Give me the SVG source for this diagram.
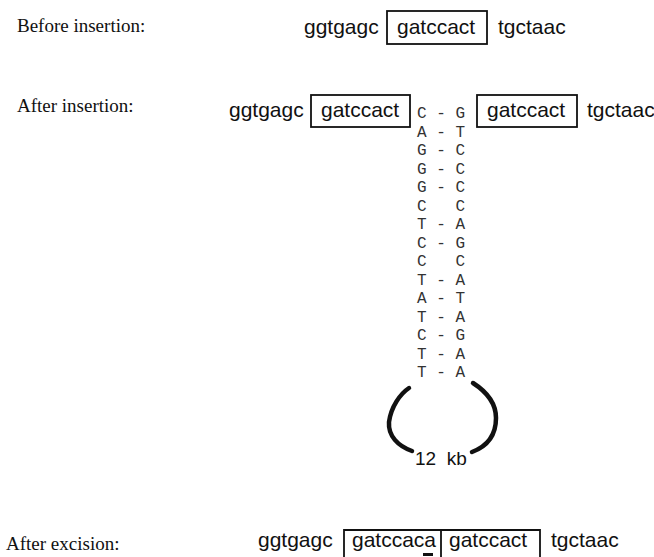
<svg xmlns="http://www.w3.org/2000/svg" width="654" height="557" viewBox="0 0 654 557">
<style>
.lbl{font-family:"Liberation Serif","Times New Roman",serif;font-size:19px;fill:#111}
.seq{font-family:"Liberation Sans",Arial,sans-serif;font-size:21px;fill:#111}
.box{fill:none;stroke:#111;stroke-width:1.8}
.bp{font-family:"Liberation Mono","Courier New",monospace;font-size:16px;fill:#333;white-space:pre}
.loop{fill:none;stroke:#111;stroke-width:4.5;stroke-linecap:round}
.kb{font-family:"Liberation Sans",Arial,sans-serif;font-size:19px;fill:#111;white-space:pre}
</style>
<rect width="654" height="557" fill="#fff"/>
<g id="before">
  <text class="lbl" x="17" y="32">Before insertion:</text>
  <text class="seq" x="304" y="34">ggtgagc</text>
  <rect class="box" x="387" y="11" width="100" height="33"/>
  <text class="seq" x="397" y="34">gatccact</text>
  <text class="seq" x="498" y="34">tgctaac</text>
</g>
<g id="after-insertion">
  <text class="lbl" x="17" y="112">After insertion:</text>
  <text class="seq" x="229" y="117">ggtgagc</text>
  <rect class="box" x="311" y="95" width="99" height="32"/>
  <text class="seq" x="321" y="117">gatccact</text>
  <rect class="box" x="477" y="95" width="100" height="32"/>
  <text class="seq" x="487" y="117">gatccact</text>
  <text class="seq" x="587" y="117">tgctaac</text>
</g>
<g id="stem">
  <text class="bp" x="417" y="118" xml:space="preserve">C - G</text>
  <text class="bp" x="417" y="136.5" xml:space="preserve">A - T</text>
  <text class="bp" x="417" y="155" xml:space="preserve">G - C</text>
  <text class="bp" x="417" y="173.5" xml:space="preserve">G - C</text>
  <text class="bp" x="417" y="192" xml:space="preserve">G - C</text>
  <text class="bp" x="417" y="210.5" xml:space="preserve">C   C</text>
  <text class="bp" x="417" y="229" xml:space="preserve">T - A</text>
  <text class="bp" x="417" y="247.5" xml:space="preserve">C - G</text>
  <text class="bp" x="417" y="266" xml:space="preserve">C   C</text>
  <text class="bp" x="417" y="284.5" xml:space="preserve">T - A</text>
  <text class="bp" x="417" y="303" xml:space="preserve">A - T</text>
  <text class="bp" x="417" y="321.5" xml:space="preserve">T - A</text>
  <text class="bp" x="417" y="340" xml:space="preserve">C - G</text>
  <text class="bp" x="417" y="358.5" xml:space="preserve">T - A</text>
  <text class="bp" x="417" y="377" xml:space="preserve">T - A</text>
</g>
<g id="connectors">
  <path class="loop" d="M409 388 C400 394 391 407 389 422 C388 436 398 446 412 451"/>
  <path class="loop" d="M473 383 C487 392 496 404 496 418 C496 434 488 446 472 452"/>
</g>
<g id="loop-label">
  <text class="kb" x="415" y="465" xml:space="preserve">12  kb</text>
</g>
<g id="after-excision">
  <text class="lbl" x="6" y="550">After excision:</text>
  <text class="seq" x="258" y="547">ggtgagc</text>
  <path class="box" d="M344 560 V530 H540 V560 M441 530 V560"/>
  <text class="seq" x="352" y="547">gatccaca</text>
  <rect x="423" y="553" width="10" height="3" fill="#111"/>
  <text class="seq" x="449" y="547">gatccact</text>
  <text class="seq" x="551" y="547">tgctaac</text>
</g>
</svg>
